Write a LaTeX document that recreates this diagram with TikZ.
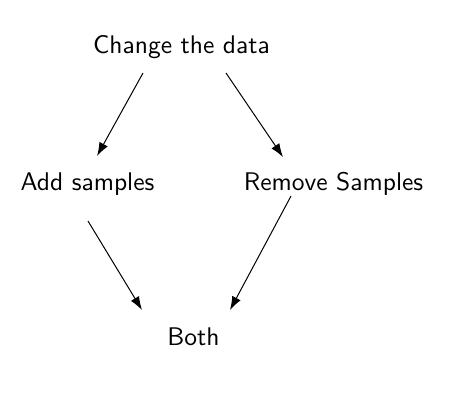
\documentclass[tikz,border=0pt]{standalone}
\usetikzlibrary{positioning,calc,arrows.meta}

\begin{document}
\begin{tikzpicture}[
    x=0.4pt, y=-0.4pt,
    lbl/.style={font=\sffamily\fontsize{10.2}{12}\selectfont, anchor=base, inner sep=0pt},
    arr/.style={-{Latex[length=5.4pt, width=3.8pt]}, thin}
]
    \useasboundingbox (0,0) rectangle (450,402);

    \node[lbl] (change) at (181.5, 53) {Change the data};
    \node[lbl] (add) at (87.5, 190) {Add samples};
    \node[lbl] (remove) at (333.5, 190) {Remove Samples};
    \node[lbl] (both) at (193.5, 345) {Both};

    \draw[arr] ($(change.base)+(-38.5,20)$) -- ($(add.base)+(9.5,-34)$);
    \draw[arr] ($(change.base)+(44.5,20)$) -- ($(remove.base)+(-50.5,-33)$);
    \draw[arr] ($(add.base)+(0.5,31)$) -- ($(both.base)+(-51.5,-35)$);
    \draw[arr] ($(remove.base)+(-42.5,6)$) -- ($(both.base)+(36.5,-35)$);
\end{tikzpicture}
\end{document}
